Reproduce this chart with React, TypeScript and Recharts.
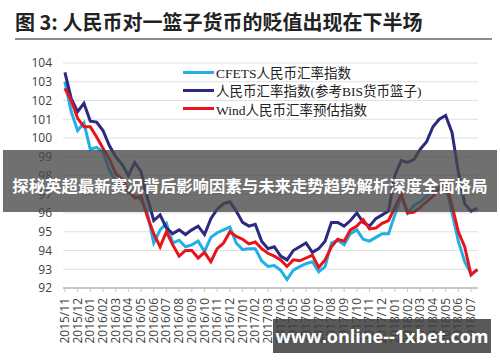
import { LineChart, Line, XAxis, YAxis, CartesianGrid } from "recharts";

const monthLabels = [
  "2015/11", "2015/12", "2016/01", "2016/02", "2016/03", "2016/04", "2016/05", "2016/06",
  "2016/07", "2016/08", "2016/09", "2016/10", "2016/11", "2016/12", "2017/01", "2017/02",
  "2017/03", "2017/04", "2017/05", "2017/06", "2017/07", "2017/08", "2017/09", "2017/10",
  "2017/11", "2017/12", "2018/01", "2018/02", "2018/03", "2018/04", "2018/05", "2018/06",
  "2018/07",
];

// position of each reading, in months from 2015/11
const samplePos = [
  0, 0.5, 1, 1.5, 2, 2.5, 3, 3.5, 4, 4.5, 5, 5.5, 6, 6.5, 7, 7.5, 8, 8.5, 9, 9.5,
  10, 10.5, 11, 11.5, 12, 12.5, 13, 13.5, 14, 14.5, 15, 15.5, 16, 16.5, 17, 17.5, 18, 18.5, 19, 19.5,
  20, 20.5, 21, 21.5, 22, 22.5, 23, 23.5, 24, 24.5, 25, 25.5, 26, 26.5, 27, 27.5, 28, 28.5, 29, 29.5,
  30, 30.5, 31, 31.5, 32, 32.5,
];

const cfets = [
  103.0, 101.4, 100.4, 100.8, 99.4, 99.5, 99.25, 98.3, 97.7, 97.3,
  97.1, 96.9, 96.7, 96.0, 94.4, 95.1, 95.45, 94.4, 94.55, 94.2,
  94.3, 94.5, 93.95, 94.7, 94.95, 95.1, 95.25, 94.4, 94.05, 94.1,
  94.1, 93.45, 93.15, 93.2, 92.95, 92.45, 92.95, 93.14, 93.3, 93.4,
  92.87, 93.14, 94.4, 94.55, 94.3, 94.9, 95.1, 94.6, 94.5, 94.7,
  94.9, 94.9, 95.9, 96.9, 96.0, 96.4, 96.6, 96.9, 97.2, 97.4,
  97.5, 96.0, 94.5, 93.4, 92.75, 92.95,
];

const bisBasket = [
  103.5, 102.1, 101.4, 101.85, 100.9, 100.85, 100.4, 99.6, 99.0, 98.6,
  98.0, 98.7, 98.2, 96.8, 95.6, 95.9, 95.2, 94.9, 95.1, 94.85,
  95.1, 95.3, 94.85, 95.7, 96.2, 96.5, 96.6, 96.1, 95.5, 95.3,
  95.4, 94.5, 94.1, 94.2, 93.7, 93.5, 94.0, 94.2, 94.4, 93.9,
  94.1, 94.5, 95.5, 95.5, 95.3, 95.6, 96.0, 95.5, 95.3, 95.7,
  95.9, 96.1, 98.0, 98.8, 98.7, 98.85, 99.4, 99.8, 100.6, 101.0,
  101.2, 100.3, 98.2, 96.5, 96.1, 96.25,
];

const windEst = [
  102.65, 102.0, 101.05, 100.6, 100.6, 100.05, 99.45, 98.9, 98.1, 97.8,
  97.2, 96.8, 96.9, 95.8, 94.9, 94.2, 95.0, 94.3, 93.7, 94.0,
  94.0, 93.6, 93.9, 93.4, 94.1, 94.4, 95.0, 94.75, 94.6, 94.35,
  94.45, 94.1, 93.85, 93.7, 93.5, 93.15, 93.5, 93.45, 93.6, 93.75,
  93.1, 93.5, 94.2, 94.6, 94.5, 95.1, 95.3, 95.65, 95.15, 95.2,
  95.45, 95.6, 96.3, 97.0, 96.0, 96.05, 96.3, 96.6, 96.9, 97.3,
  97.6, 96.4, 95.0, 94.2, 92.7, 93.0,
];

const yTicks = [92, 93, 94, 95, 96, 97, 98, 99, 100, 101, 102, 103, 104];
const xTicks = monthLabels.map((_, i) => i);

const seriesNames = ["CFETS人民币汇率指数", "人民币汇率指数(参考BIS货币篮子)", "Wind人民币汇率预估指数"];
const seriesColors = ["#22aee6", "#2c2a80", "#e8141c"];

const data = samplePos.map((m, i) => ({
  m,
  cfets: cfets[i],
  bis: bisBasket[i],
  wind: windEst[i],
}));

const axisFont = '"Open Sans", "Liberation Sans", sans-serif';
const cjkSans = '"Noto Sans CJK SC", sans-serif';
const legendFont = '"Liberation Serif", "Noto Sans CJK SC", serif';

function MonthTick({ x, y, payload }: any) {
  return (
    <text
      x={0}
      y={0}
      transform={`translate(${x + 4},${y + 4}) rotate(-90)`}
      textAnchor="end"
      fontSize={12}
      fontFamily={axisFont}
      fill="#404040"
    >
      {monthLabels[payload.value]}
    </text>
  );
}

export default function App() {
  return (
    <div style={{ position: "absolute", left: 0, top: 0, width: 500, height: 362, background: "#fff", overflow: "hidden" }}>
      <div
        style={{
          position: "absolute",
          left: 15,
          top: 9,
          fontFamily: cjkSans,
          fontWeight: 700,
          fontSize: 20,
          color: "#222",
          whiteSpace: "nowrap",
          lineHeight: "26px",
        }}
      >
        图 3: 人民币对一篮子货币的贬值出现在下半场
      </div>
      <div style={{ position: "absolute", left: 15, top: 38, width: 477, height: 2, background: "#8c8c8c" }} />

      <LineChart
        width={500}
        height={362}
        data={data}
        margin={{ top: 63, right: 22, bottom: 0, left: 0 }}
        style={{ position: "absolute", left: 0, top: 0 }}
      >
        <CartesianGrid horizontal vertical={false} stroke="#e0e0e0" strokeWidth={1} />
        <XAxis
          dataKey="m"
          type="number"
          domain={[-0.15, 32.55]}
          ticks={xTicks}
          interval={0}
          tick={<MonthTick />}
          tickSize={4}
          tickLine={{ stroke: "#c8c8c8" }}
          axisLine={{ stroke: "#c8c8c8", strokeWidth: 2 }}
          height={74}
        />
        <YAxis
          domain={[92, 104]}
          ticks={yTicks}
          interval={0}
          width={63}
          tickLine={false}
          axisLine={false}
          tickMargin={5}
          tick={{ fontSize: 12, fill: "#404040", fontFamily: axisFont }}
        />
        <Line dataKey="cfets" stroke={seriesColors[0]} strokeWidth={3} dot={false} isAnimationActive={false} />
        <Line dataKey="bis" stroke={seriesColors[1]} strokeWidth={3} dot={false} isAnimationActive={false} />
        <Line dataKey="wind" stroke={seriesColors[2]} strokeWidth={3} dot={false} isAnimationActive={false} />
      </LineChart>

      {seriesNames.map((name, i) => (
        <div
          key={name}
          style={{ position: "absolute", left: 183, top: 63 + i * 18.3, height: 18, display: "flex", alignItems: "center" }}
        >
          <div style={{ width: 31, height: 3, background: seriesColors[i], marginRight: 2 }} />
          <span style={{ fontFamily: legendFont, fontSize: 13.5, color: "#222", whiteSpace: "nowrap" }}>{name}</span>
        </div>
      ))}

      <div
        style={{
          position: "absolute",
          left: 3,
          top: 150,
          width: 494,
          height: 62,
          background: "rgba(72,72,72,0.78)",
        }}
      >
        <div
          style={{
            position: "absolute",
            left: 0,
            top: 24,
            width: 494,
            textAlign: "center",
            fontFamily: cjkSans,
            fontWeight: 700,
            fontSize: 16.4,
            lineHeight: "22px",
            color: "#fff",
            whiteSpace: "nowrap",
          }}
        >
          探秘英超最新赛况背后影响因素与未来走势趋势解析深度全面格局
        </div>
      </div>

      <div
        style={{
          position: "absolute",
          left: 273,
          top: 319,
          width: 218,
          height: 34,
          background: "rgba(60,60,60,0.85)",
          display: "flex",
          alignItems: "center",
          justifyContent: "center",
        }}
      >
        <span style={{ fontFamily: axisFont, fontWeight: 700, fontSize: 18, color: "#fff", whiteSpace: "nowrap" }}>
          www.online--1xbet.com
        </span>
      </div>
    </div>
  );
}
